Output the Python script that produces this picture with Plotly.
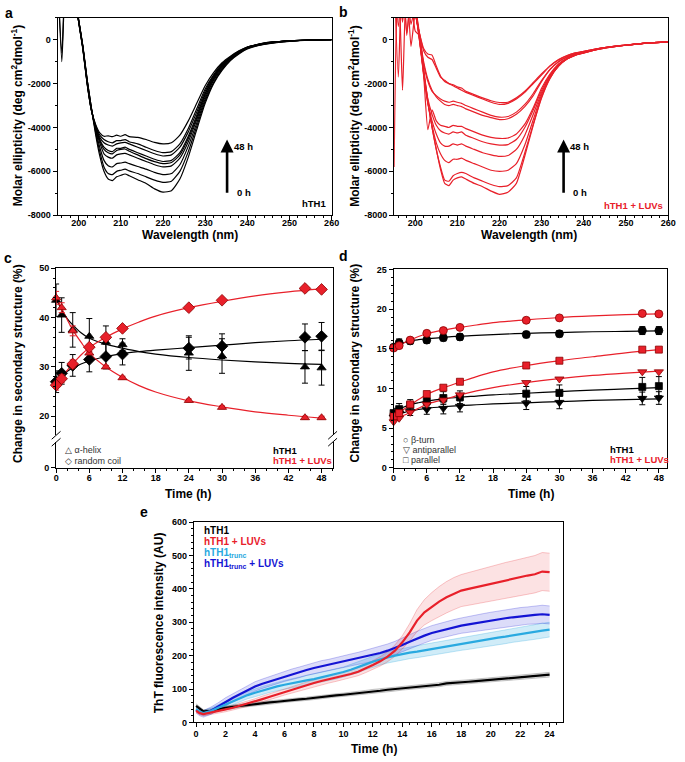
import plotly.graph_objects as go

FONT = "Liberation Sans, Arial, sans-serif"
W, H = 685, 762
RED = "#e8202a"
RED_EDGE = "#8a0000"
LBLUE = "#29a9e0"
BLUE = "#1414d4"

# ---------------- Panels a / b : CD spectra ----------------
WL = [195, 196, 197, 198, 199, 200, 201, 202, 203, 204, 205, 206, 207, 208, 209, 210, 211, 212,
      214, 216, 218, 220, 222, 224, 226, 228, 230, 232, 234, 236, 238, 240, 243, 246, 250, 255, 260]

CD_HTH1 = [
    [3000, 2500, 3000, 2500, 2000, 900, -300, -1800, -3100, -4300, -5300, -6000, -6350, -6420, -6250, -6180, -6120, -6200,
     -6380, -6550, -6800, -6950, -6880, -6350, -5350, -4100, -2900, -2000, -1400, -950, -650, -420, -250, -150, -70, -20, 0],
    [3000, 2500, 3000, 2500, 2000, 900, -300, -1800, -3100, -4200, -5100, -5800, -6100, -6150, -6000, -5950, -5900, -5980,
     -6100, -6250, -6400, -6500, -6450, -6000, -5100, -3950, -2800, -1950, -1350, -920, -620, -400, -240, -140, -60, -10, 0],
    [3000, -1000, 3000, 2500, 2000, 900, -350, -1850, -3100, -4100, -4900, -5500, -5750, -5800, -5650, -5620, -5580, -5650,
     -5780, -5900, -6050, -6150, -6100, -5700, -4850, -3800, -2700, -1850, -1300, -880, -600, -380, -230, -130, -60, -10, 0],
    [3000, 2500, 3000, 2500, 2000, 850, -350, -1900, -3150, -4050, -4700, -5200, -5350, -5400, -5250, -5200, -5180, -5250,
     -5400, -5550, -5700, -5800, -5750, -5400, -4650, -3650, -2600, -1800, -1250, -860, -580, -370, -220, -130, -55, -10, 0],
    [3000, 2500, 3000, 2500, 2000, 850, -350, -1900, -3150, -4000, -4600, -5000, -5150, -5200, -5050, -5000, -4980, -5080,
     -5250, -5420, -5560, -5650, -5600, -5250, -4500, -3550, -2500, -1750, -1200, -830, -560, -360, -210, -120, -50, -10, 0],
    [3000, -600, 3000, 2500, 2000, 850, -400, -1950, -3200, -4000, -4550, -4900, -5050, -5100, -4950, -4950, -4900, -5000,
     -5150, -5300, -5450, -5550, -5500, -5150, -4400, -3450, -2450, -1700, -1180, -820, -550, -350, -200, -110, -50, -10, 0],
    [3000, 2500, 3000, 2500, 2000, 800, -400, -1950, -3200, -3950, -4450, -4700, -4800, -4850, -4750, -4700, -4680, -4750,
     -4900, -5050, -5200, -5300, -5250, -4900, -4200, -3300, -2350, -1650, -1150, -800, -540, -340, -200, -110, -50, -10, 0],
    [3000, 2500, 3000, 2500, 2000, 800, -400, -2000, -3200, -3900, -4350, -4550, -4650, -4700, -4600, -4600, -4550, -4650,
     -4750, -4900, -5050, -5150, -5100, -4750, -4050, -3150, -2250, -1600, -1100, -780, -520, -330, -190, -100, -45, -10, 0],
    [3000, 2500, 3000, 2500, 2000, 800, -450, -2000, -3200, -3850, -4250, -4400, -4380, -4420, -4350, -4400, -4330, -4420,
     -4450, -4550, -4680, -4750, -4700, -4350, -3700, -2900, -2100, -1500, -1050, -750, -500, -330, -190, -100, -45, -10, 0],
]

CD_LUV = [
    [3000, 600, 3000, 300, 2000, 1500, 300, -1300, -2800, -4000, -5000, -5900, -6550, -6650, -6400, -6300, -6250, -6350,
     -6550, -6700, -6900, -7050, -6950, -6550, -5300, -3900, -2650, -1750, -1200, -880, -700, -600, -450, -350, -250, -150, -100],
    [3000, 2500, 800, 2500, 2000, 400, 200, -1400, -2800, -4000, -5000, -5800, -6400, -6450, -6200, -6100, -6050, -6100,
     -6300, -6450, -6600, -6700, -6650, -6300, -5150, -3850, -2600, -1750, -1200, -880, -700, -600, -450, -350, -250, -150, -100],
    [-5800, 2500, 3000, 2500, 700, 1500, 100, -1500, -2900, -3900, -4700, -5200, -5500, -5600, -5450, -5450, -5400, -5500,
     -5650, -5800, -5950, -6000, -5950, -5650, -4800, -3650, -2500, -1700, -1200, -880, -700, -600, -450, -350, -250, -150, -100],
    [3000, 2500, -2300, 2500, 2000, 1500, 0, -1600, -2900, -3700, -4300, -4700, -4850, -4850, -4750, -4800, -4750, -4850,
     -5000, -5150, -5250, -5320, -5280, -5000, -4350, -3400, -2400, -1650, -1150, -860, -680, -580, -440, -340, -250, -150, -100],
    [3000, -1700, 3000, 2500, 2000, 1300, 100, -1500, -2700, -3400, -3900, -4150, -4250, -4300, -4200, -4250, -4200, -4350,
     -4500, -4650, -4750, -4800, -4780, -4550, -4000, -3200, -2300, -1600, -1120, -850, -680, -580, -440, -340, -250, -150, -100],
    [3000, 2500, 3000, 2500, 2000, 1300, 0, -1600, -4100, -3200, -3700, -3900, -3950, -4000, -3900, -3950, -3950, -4050,
     -4200, -4350, -4450, -4500, -4480, -4300, -3850, -3100, -2200, -1550, -1100, -840, -670, -570, -430, -340, -250, -150, -100],
    [3000, 2500, 3000, 200, 2000, 1300, 200, -1000, -1800, -2300, -2600, -2800, -2950, -3000, -2950, -3000, -3050, -3150,
     -3300, -3450, -3550, -3640, -3600, -3400, -3050, -2550, -1900, -1350, -1000, -780, -630, -550, -420, -330, -240, -150, -100],
    [3000, 2500, 3000, 2500, -300, 1200, 100, -1100, -1900, -2350, -2550, -2700, -2800, -2850, -2800, -2850, -2900, -3000,
     -3150, -3300, -3450, -3530, -3500, -3300, -2950, -2450, -1850, -1350, -1000, -780, -630, -550, -420, -330, -240, -150, -100],
    [3000, 2500, 3000, 2500, 2000, 1200, 300, -400, -650, -700, -1200, -1650, -1900, -2000, -2100, -2200, -2300, -2400,
     -2550, -2700, -2850, -2950, -2900, -2700, -2400, -2000, -1600, -1200, -920, -730, -600, -530, -410, -320, -240, -150, -100],
    [3000, 2500, 3000, 2500, 2000, 1200, 300, -500, -800, -900, -1300, -1700, -1850, -2000, -2050, -2150, -2200, -2350,
     -2500, -2650, -2780, -2860, -2850, -2650, -2350, -1950, -1550, -1180, -900, -720, -600, -530, -410, -320, -240, -150, -100],
]
for c_ in CD_HTH1 + CD_LUV:
    assert len(c_) == len(WL)

CD_YTICKS = [-8000, -6000, -4000, -2000, 0]
CD_YTICKTEXT = ["-8000", "-6000", "-4000", "-2000", "0"]

# ---------------- Panels c / d : secondary structure ----------------
T_SS = [0, 1, 3, 6, 9, 12, 24, 30, 45, 48]
T_FIT = [0, 1, 2, 3, 4.5, 6, 9, 12, 15, 18, 24, 30, 36, 42, 48]

HELIX_H = [43.5, 40.5, 37.5, 36.2, 35.0, 34.5, 32.8, 32.2, 30.0, 29.8]
HELIX_H_ERR = [3.3, 3.5, 3.5, 3.6, 3.3, 1.2, 3.5, 3.5, 3.3, 3.5]
COIL_H = [27.0, 28.7, 30.3, 31.5, 32.1, 32.6, 33.8, 34.2, 36.0, 36.2]
COIL_H_ERR = [2.2, 2.2, 2.2, 2.5, 2.5, 2.2, 2.2, 2.5, 2.7, 2.8]
HELIX_L = [44.0, 42.0, 37.3, 32.8, 30.0, 27.8, 23.2, 21.8, 19.7, 19.7]
HELIX_L_ERR = [1.3, 1.0, 1.0, 0.3, 0.3, 0.3, 0.3, 0.3, 0.3, 0.3]
COIL_L = [26.3, 27.6, 30.6, 34.0, 36.0, 37.8, 42.0, 43.5, 45.9, 45.7]
COIL_L_ERR = [1.0, 0.8, 0.8, 0.3, 0.3, 0.3, 0.3, 0.3, 0.3, 0.3]

HELIX_H_FIT = [43.8, 41.6, 39.8, 38.5, 36.9, 35.8, 34.6, 33.8, 33.1, 32.6, 31.9, 31.4, 31.0, 30.7, 30.5]
COIL_H_FIT = [27.3, 28.3, 29.1, 29.8, 30.6, 31.2, 32.1, 32.7, 33.1, 33.4, 33.9, 34.4, 34.9, 35.3, 35.6]
HELIX_L_FIT = [44.2, 41.9, 39.6, 37.5, 35.0, 32.8, 30.0, 27.9, 26.2, 24.9, 23.1, 21.9, 20.9, 20.2, 19.6]
COIL_L_FIT = [26.3, 27.8, 29.3, 30.6, 32.4, 33.9, 36.0, 37.7, 39.1, 40.3, 42.0, 43.3, 44.4, 45.2, 45.8]

TURN_H = [15.2, 15.75, 16.0, 16.1, 16.4, 16.5, 16.8, 16.9, 17.3, 17.3]
TURN_H_ERR = [0.4, 0.5, 0.4, 0.4, 0.4, 0.4, 0.4, 0.4, 0.5, 0.5]
ANTI_H = [6.4, 6.9, 7.1, 7.35, 7.5, 7.75, 8.15, 8.25, 8.75, 8.8]
ANTI_H_ERR = [0.5, 0.5, 0.5, 0.6, 0.7, 0.7, 0.8, 0.8, 0.8, 0.8]
PARA_H = [6.9, 7.4, 7.9, 8.4, 8.8, 8.9, 9.35, 9.45, 10.2, 10.3]
PARA_H_ERR = [0.6, 0.7, 0.7, 0.6, 0.8, 0.8, 0.9, 1.0, 1.2, 1.2]
TURN_L = [15.1, 15.4, 16.1, 16.95, 17.3, 17.7, 18.6, 18.9, 19.45, 19.4]
ANTI_L = [5.8, 6.25, 7.0, 8.0, 8.55, 9.2, 10.75, 11.2, 12.1, 12.1]
PARA_L = [6.5, 6.9, 8.0, 9.3, 10.1, 10.85, 12.9, 13.5, 14.9, 14.9]

TURN_H_FIT = [15.3, 15.6, 15.8, 16.0, 16.15, 16.25, 16.45, 16.6, 16.7, 16.8, 16.95, 17.05, 17.15, 17.2, 17.25]
ANTI_H_FIT = [6.5, 6.8, 7.0, 7.15, 7.35, 7.5, 7.7, 7.85, 7.95, 8.05, 8.2, 8.35, 8.5, 8.6, 8.7]
PARA_H_FIT = [7.0, 7.4, 7.7, 7.95, 8.2, 8.4, 8.7, 8.9, 9.05, 9.2, 9.4, 9.6, 9.8, 9.95, 10.1]
TURN_L_FIT = [15.1, 15.45, 15.8, 16.1, 16.55, 16.9, 17.35, 17.7, 18.0, 18.3, 18.65, 18.95, 19.15, 19.3, 19.4]
ANTI_L_FIT = [5.9, 6.3, 6.65, 7.0, 7.5, 8.0, 8.6, 9.2, 9.7, 10.1, 10.75, 11.25, 11.65, 11.95, 12.2]
PARA_L_FIT = [6.5, 6.95, 7.45, 7.9, 8.6, 9.25, 10.1, 10.8, 11.5, 12.1, 12.9, 13.5, 14.0, 14.5, 14.9]

# ---------------- Panel e : ThT kinetics ----------------
T_THT = [0, 0.25, 0.5, 1, 1.5, 2, 2.5, 3, 3.5, 4, 4.5, 5, 5.5, 6, 6.5, 7, 7.5, 8, 8.5, 9, 9.5, 10,
         10.5, 11, 11.5, 12, 12.5, 13, 13.5, 14, 14.5, 15, 15.5, 16, 16.5, 17, 17.5, 18, 18.5, 19,
         19.5, 20, 20.5, 21, 21.5, 22, 22.5, 23, 23.5, 24]
THT_H = [50, 40, 33, 35, 40, 44, 47, 50, 52, 54, 57, 60, 62, 65, 66, 69, 71, 74, 75, 78, 81, 83, 85, 88, 90,
         93, 95, 98, 100, 103, 105, 107, 109, 110, 113, 117, 118, 120, 122, 124, 126, 127, 130, 131, 133, 135,
         138, 140, 141, 143]
THT_H_ERR = [6, 6, 5, 5, 5, 5, 5, 5, 5, 5, 5, 5, 5, 5, 5, 5, 5, 5, 5, 5, 5, 5, 5, 6, 6, 6, 6, 6, 6, 6,
             6, 6, 6, 6, 6, 6, 6, 6, 6, 6, 6, 6, 7, 7, 7, 7, 7, 7, 7, 7]
THT_L = [35, 28, 25, 29, 34, 39, 44, 50, 56, 63, 70, 77, 84, 92, 98, 105, 111, 118, 124, 129, 134, 140, 145,
         152, 161, 172, 183, 197, 215, 240, 270, 305, 330, 347, 362, 375, 386, 395, 400, 405, 411, 417, 421,
         426, 430, 435, 440, 444, 452, 450]
THT_L_ERR = [5, 5, 5, 6, 6, 7, 7, 8, 8, 8, 9, 9, 9, 10, 10, 10, 10, 10, 11, 11, 11, 12, 12, 12, 12, 13, 14,
             15, 17, 20, 26, 33, 38, 42, 45, 47, 48, 48, 49, 50, 51, 52, 52, 53, 54, 55, 55, 56, 57, 57]
THT_T = [40, 32, 28, 34, 44, 54, 64, 74, 82, 89, 96, 102, 108, 113, 118, 122, 126, 130, 135, 140, 145, 151,
         158, 165, 174, 182, 189, 195, 200, 205, 209, 212, 216, 220, 224, 228, 232, 235, 239, 242, 246, 250,
         254, 257, 261, 265, 268, 271, 275, 278]
THT_T_ERR = [8, 8, 8, 9, 9, 10, 10, 11, 11, 12, 12, 12, 13, 13, 13, 14, 14, 14, 15, 15, 15, 15, 16, 16, 16,
             16, 17, 17, 17, 17, 18, 18, 18, 18, 19, 19, 19, 19, 20, 20, 20, 20, 21, 21, 21, 21, 22, 22, 22, 22]
THT_TL = [38, 30, 26, 35, 48, 62, 74, 85, 97, 108, 116, 123, 131, 138, 144, 150, 157, 163, 168, 172, 177, 182,
          187, 192, 197, 202, 208, 215, 223, 232, 242, 252, 260, 268, 274, 280, 285, 290, 294, 298, 302, 305,
          309, 312, 315, 318, 320, 322, 324, 322]
THT_TL_ERR = [10, 10, 10, 11, 11, 12, 12, 13, 13, 14, 14, 15, 15, 15, 16, 16, 16, 17, 17, 17, 18, 18, 18, 18,
              19, 19, 19, 20, 20, 20, 21, 21, 22, 22, 22, 23, 23, 23, 24, 24, 24, 25, 25, 25, 26, 26, 26, 27, 27, 27]
for s_ in [THT_H, THT_H_ERR, THT_L, THT_L_ERR, THT_T, THT_T_ERR, THT_TL, THT_TL_ERR]:
    assert len(s_) == len(T_THT)


def pxx(x):
    return x / W


def pxy(y):
    return 1 - y / H


TICKFONT = dict(family=FONT, size=9, color="black", weight="bold")


def axis(domain, rng, anchor, mirror=True, **kw):
    d = dict(domain=domain, range=rng, anchor=anchor, showline=True, linecolor="black", linewidth=1,
             mirror=mirror, ticks="outside", ticklen=4, tickwidth=1, tickcolor="black",
             tickfont=TICKFONT, showgrid=False, zeroline=False)
    d.update(kw)
    return d


def minor(dt, t0=0):
    return dict(ticks="outside", ticklen=2, tickwidth=1, tickcolor="black", dtick=dt, tick0=t0, showgrid=False)


fig = go.Figure()

# --- a & b spectra
for ys in CD_HTH1:
    fig.add_trace(go.Scatter(x=WL, y=ys, mode="lines", line=dict(color="black", width=1.2, shape="spline", smoothing=0.5),
                             xaxis="x", yaxis="y"))
for ys in CD_LUV:
    fig.add_trace(go.Scatter(x=WL, y=ys, mode="lines", line=dict(color=RED, width=1.2, shape="spline", smoothing=0.5),
                             xaxis="x2", yaxis="y2"))


# --- c
def fitline(y, color, xa, ya):
    fig.add_trace(go.Scatter(x=T_FIT, y=y, mode="lines", line=dict(color=color, width=1.2, shape="spline"),
                             xaxis=xa, yaxis=ya))


def marks(y, err, sym, color, edge, xa, ya, size=8):
    fig.add_trace(go.Scatter(x=T_SS, y=y, mode="markers",
                             marker=dict(symbol=sym, size=size, color=color, line=dict(color=edge, width=0.8)),
                             error_y=(dict(type="data", array=err, color=color if color == "black" else RED, thickness=1, width=3)
                                      if err is not None else None),
                             cliponaxis=False, xaxis=xa, yaxis=ya))


fitline(HELIX_H_FIT, "black", "x3", "y3")
fitline(COIL_H_FIT, "black", "x3", "y3")
fitline(HELIX_L_FIT, RED, "x3", "y3")
fitline(COIL_L_FIT, RED, "x3", "y3")
marks(HELIX_H, HELIX_H_ERR, "triangle-up", "black", "black", "x3", "y3")
marks(COIL_H, COIL_H_ERR, "diamond", "black", "black", "x3", "y3", 9)
marks(HELIX_L, HELIX_L_ERR, "triangle-up", RED, RED_EDGE, "x3", "y3")
marks(COIL_L, COIL_L_ERR, "diamond", RED, RED_EDGE, "x3", "y3", 9)
# empty trace so that the lower (broken) segment of panel c gets its axes drawn
fig.add_trace(go.Scatter(x=[None], y=[None], mode="lines", xaxis="x4", yaxis="y4", hoverinfo="skip"))

# --- d
fitline(TURN_H_FIT, "black", "x5", "y5")
fitline(ANTI_H_FIT, "black", "x5", "y5")
fitline(PARA_H_FIT, "black", "x5", "y5")
fitline(TURN_L_FIT, RED, "x5", "y5")
fitline(ANTI_L_FIT, RED, "x5", "y5")
fitline(PARA_L_FIT, RED, "x5", "y5")
marks(TURN_H, TURN_H_ERR, "circle", "black", "black", "x5", "y5")
marks(ANTI_H, ANTI_H_ERR, "triangle-down", "black", "black", "x5", "y5")
marks(PARA_H, PARA_H_ERR, "square", "black", "black", "x5", "y5", 7)
marks(TURN_L, None, "circle", RED, RED_EDGE, "x5", "y5")
marks(ANTI_L, None, "triangle-down", RED, RED_EDGE, "x5", "y5")
marks(PARA_L, None, "square", RED, RED_EDGE, "x5", "y5", 7)

# --- e
series_e = [
    (THT_T, THT_T_ERR, LBLUE, "rgba(41,169,224,0.22)", "rgba(41,169,224,0.35)"),
    (THT_TL, THT_TL_ERR, BLUE, "rgba(20,20,212,0.15)", "rgba(20,20,212,0.3)"),
    (THT_L, THT_L_ERR, RED, "rgba(232,32,42,0.13)", "rgba(232,32,42,0.3)"),
    (THT_H, THT_H_ERR, "black", "rgba(0,0,0,0.12)", "rgba(0,0,0,0.25)"),
]
for ys, es, col, fillc, edgec in series_e:
    up = [v + e for v, e in zip(ys, es)]
    lo = [v - e for v, e in zip(ys, es)]
    fig.add_trace(go.Scatter(x=T_THT, y=up, mode="lines", line=dict(color=edgec, width=0.8),
                             xaxis="x6", yaxis="y6"))
    fig.add_trace(go.Scatter(x=T_THT, y=lo, mode="lines", line=dict(color=edgec, width=0.8),
                             fill="tonexty", fillcolor=fillc, xaxis="x6", yaxis="y6"))
for ys, es, col, fillc, edgec in [series_e[3], series_e[1], series_e[0], series_e[2]]:
    fig.add_trace(go.Scatter(x=T_THT, y=ys, mode="lines", line=dict(color=col, width=2.2),
                             xaxis="x6", yaxis="y6"))

# ---------------- layout ----------------
dom_a_x = [pxx(55.5), pxx(334)]
dom_b_x = [pxx(397.5), pxx(676)]
dom_ab_y = [pxy(213), pxy(13)]
dom_c_x = [pxx(54), pxx(335)]
dom_d_x = [pxx(397), pxx(675)]
dom_cd_y = [pxy(469), pxy(268)]

layout = dict(
    width=W, height=H, margin=dict(l=0, r=0, t=0, b=0), paper_bgcolor="white", plot_bgcolor="white",
    showlegend=False, font=dict(family=FONT, color="black"),
    xaxis=axis(dom_a_x, [195, 260], "y", dtick=10, tick0=200, minor=minor(2), ticklabelstandoff=-5),
    yaxis=axis(dom_ab_y, [-8000, 1000], "x", tickvals=CD_YTICKS, ticktext=CD_YTICKTEXT, minor=minor(1000)),
    xaxis2=axis(dom_b_x, [195, 260], "y2", dtick=10, tick0=200, minor=minor(2), ticklabelstandoff=-5),
    yaxis2=axis(dom_ab_y, [-8000, 1000], "x2", tickvals=CD_YTICKS, ticktext=CD_YTICKTEXT, minor=minor(1000)),
    # c upper segment
    xaxis3=dict(domain=dom_c_x, range=[0, 50], anchor="y3", side="top", showline=True, linecolor="black",
                linewidth=1, ticks="", showticklabels=False, showgrid=False, zeroline=False),
    yaxis3=axis([pxy(436), pxy(266.7)], [16.14, 50], "x3", tickvals=[20, 30, 40, 50], minor=minor(2)),
    # c lower segment
    xaxis4=axis(dom_c_x, [0, 50], "y4", mirror=False, dtick=6, tick0=0, minor=minor(2), ticklabelstandoff=-3),
    yaxis4=axis([pxy(469), pxy(443)], [0, 5.2], "x4", tickvals=[0]),
    xaxis5=axis(dom_d_x, [0, 49.5], "y5", dtick=6, tick0=0, minor=minor(2), ticklabelstandoff=-3),
    yaxis5=axis(dom_cd_y, [0, 25], "x5", dtick=5, tick0=0, minor=minor(1)),
    xaxis6=axis([pxx(194), pxx(569)], [-0.15, 24.9], "y6", dtick=2, tick0=0, minor=minor(0.5), ticklabelstandoff=-1),
    yaxis6=axis([pxy(727), pxy(524)], [0, 600], "x6", dtick=100, tick0=0, minor=minor(20)),
)
fig.update_layout(**layout)

ann = []


def text(t, x, y, size=9.5, color="black", xanchor="center", yanchor="middle", bold=True, angle=0, fam=FONT):
    ann.append(dict(text=t, x=pxx(x), y=pxy(y), xref="paper", yref="paper", showarrow=False,
                    xanchor=xanchor, yanchor=yanchor, textangle=angle,
                    font=dict(family=fam, size=size, color=color, weight="bold" if bold else "normal")))


# panel letters
text("a", 6, 8, size=14)
text("b", 346, 7, size=14)
text("c", 5, 256, size=14)
text("d", 346, 254, size=14)
text("e", 143, 514, size=14)

# axis titles
MOLAR = "Molar ellipticity (deg cm<sup>2</sup>dmol<sup>-1</sup>)"
text(MOLAR, 14, 112, size=12, angle=-90)
text(MOLAR, 356, 112, size=12, angle=-90)
text("Wavelength (nm)", 190, 233, size=12)
text("Wavelength (nm)", 535, 233, size=12)
text("Change in secondary structure (%)", 15, 363, size=12, angle=-90)
text("Change in secondary structure (%)", 358, 363, size=12, angle=-90)
text("Time (h)", 188, 495, size=12)
text("Time (h)", 537, 495, size=12)
text("ThT fluorescence intensity (AU)", 158, 626, size=12, angle=-90)
text("Time (h)", 377, 754, size=12)

# a / b labels
text("hTH1", 330, 201, xanchor="right")
text("hTH1 + LUVs", 673, 203, color=RED, xanchor="right")

# c legends
LEG = "#333333"
text("△ α-helix", 61, 450.5, size=9, color=LEG, xanchor="left", bold=False)
text("◇ random coil", 61, 462, size=9, color=LEG, xanchor="left", bold=False)
text("hTH1", 272, 451, xanchor="left")
text("hTH1 + LUVs", 272, 462, color=RED, xanchor="left")
# d legends
text("○ β-turn", 404, 440.5, size=9, color=LEG, xanchor="left", bold=False)
text("▽ antiparallel", 404, 451, size=9, color=LEG, xanchor="left", bold=False)
text("□ parallel", 404, 461.5, size=9, color=LEG, xanchor="left", bold=False)
text("hTH1", 615, 450, xanchor="left")
text("hTH1 + LUVs", 615, 461, color=RED, xanchor="left")
# e legend
text("hTH1", 202, 532, size=10, xanchor="left")
text("hTH1 + LUVs", 202, 543.5, size=10, color=RED, xanchor="left")
text("hTH1<sub>trunc</sub>", 202, 555, size=10, color=LBLUE, xanchor="left")
text("hTH1<sub>trunc</sub> + LUVs", 202, 566.5, size=10, color=BLUE, xanchor="left")

# arrows in a and b
for xr, yr in [("x", "y"), ("x2", "y2")]:
    ann.append(dict(x=235.2, y=-4550, ax=235.2, ay=-7050, xref=xr, yref=yr, axref=xr, ayref=yr, text="",
                    showarrow=True, arrowhead=2, arrowsize=1.0, arrowwidth=2.6, arrowcolor="black", standoff=0,
                    startstandoff=0))
    ann.append(dict(x=236.3, y=-4850, xref=xr, yref=yr, text="48 h", showarrow=False, xanchor="left",
                    font=dict(family=FONT, size=9.5, color="black", weight="bold")))
    ann.append(dict(x=237.0, y=-6950, xref=xr, yref=yr, text="0 h", showarrow=False, xanchor="left",
                    font=dict(family=FONT, size=9.5, color="black", weight="bold")))

fig.update_layout(annotations=ann)

# axis break marks for panel c
shapes = []
for xc in (54, 335):
    for yc in (436, 443):
        shapes.append(dict(type="line", xref="paper", yref="paper", x0=pxx(xc - 4.5), y0=pxy(yc + 4),
                           x1=pxx(xc + 4.5), y1=pxy(yc - 4), line=dict(color="black", width=1)))
fig.update_layout(shapes=shapes)

fig.write_html("out.html", config={"displayModeBar": False},
               post_script="document.body.style.margin='0px';document.body.style.padding='0px';"
                           "document.documentElement.style.overflow='hidden';")
